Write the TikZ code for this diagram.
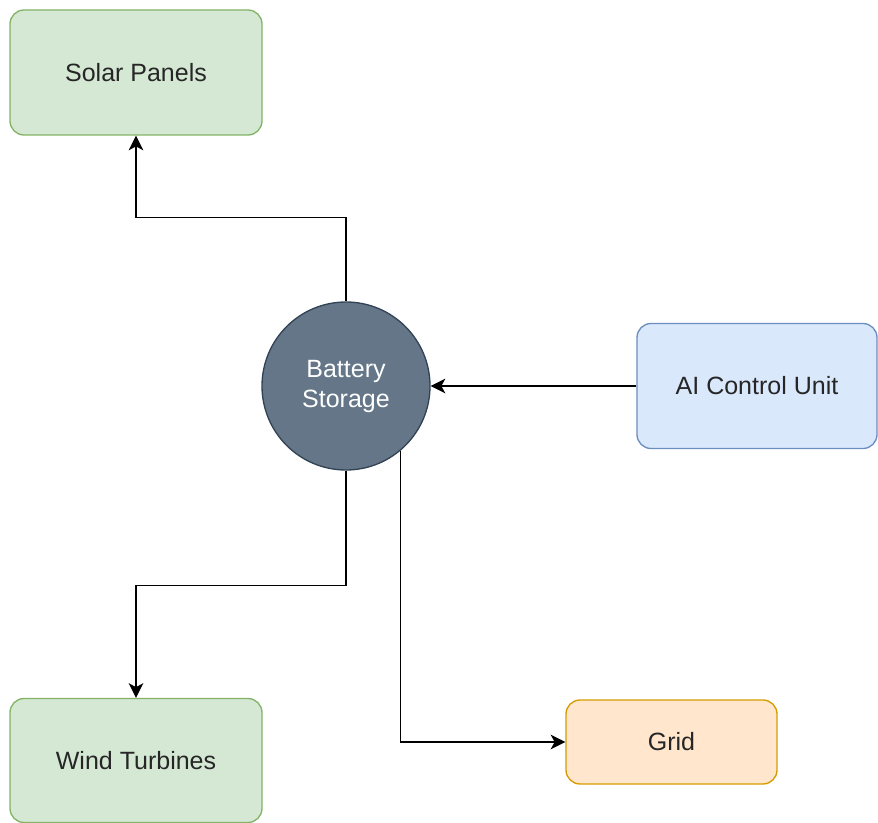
\documentclass[tikz,border=0pt]{standalone}
\usepackage{fontspec}
\setmainfont{Liberation Sans}
\usetikzlibrary{arrows.meta}

\definecolor{greenFill}{HTML}{D5E8D4}
\definecolor{greenLine}{HTML}{82B366}
\definecolor{blueFill}{HTML}{DAE8FC}
\definecolor{blueLine}{HTML}{6C8EBF}
\definecolor{orangeFill}{HTML}{FFE6CC}
\definecolor{orangeLine}{HTML}{D79B00}
\definecolor{slateFill}{HTML}{647687}
\definecolor{slateLine}{HTML}{314354}
\definecolor{labelInk}{HTML}{262626}

\tikzset{
    unitbox/.style={rectangle, rounded corners=10.5pt, line width=1pt,
        text=labelInk, font=\fontsize{18.75}{22.5}\selectfont, inner sep=0pt},
    flow/.style={line width=1.2pt, -{Stealth[length=11pt,width=11pt,inset=3pt]}},
}

\begin{document}
\begin{tikzpicture}[x=0.75pt,y=0.75pt,yscale=-1,xscale=1]
% canvas 878 x 823
\path[use as bounding box] (0,0) rectangle (878,823);

% Boxes
\node (solar) [unitbox, fill=greenFill, draw=greenLine, minimum width=189pt, minimum height=93.75pt] at (136,72.5) {Solar Panels};
\node (wind) [unitbox, fill=greenFill, draw=greenLine, minimum width=189pt, minimum height=93pt] at (136,760.5) {Wind Turbines};
\node (ai) [unitbox, fill=blueFill, draw=blueLine, minimum width=180pt, minimum height=93.75pt] at (757,386) {AI Control Unit};
\node (grid) [unitbox, fill=orangeFill, draw=orangeLine, minimum width=158.25pt, minimum height=63pt] at (671.5,742) {Grid};

% Storage
\node (bat) [circle, fill=slateFill, draw=slateLine, line width=1pt, minimum size=126pt, inner sep=0pt,
    text=white, font=\fontsize{18.75}{22.5}\selectfont, align=center] at (346,386) {Battery\\Storage};

% Connectors
\draw [flow] (bat.north) -- ++(0,-84) -| (solar.south);
\draw [flow] (bat.south) -- ++(0,115) -| (wind.north);
\draw [flow] (bat.-50) |- (grid.west);
\draw [flow] (ai.west) -- (bat.east);

\end{tikzpicture}
\end{document}
